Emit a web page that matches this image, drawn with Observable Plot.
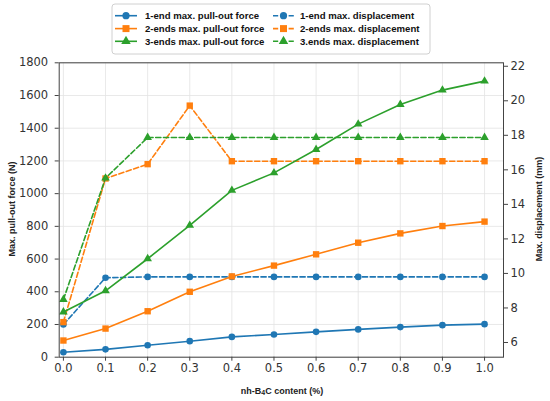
<!DOCTYPE html>
<html>
<head>
<meta charset="utf-8">
<script src="https://cdn.jsdelivr.net/npm/d3@7"></script>
<script src="https://cdn.jsdelivr.net/npm/@observablehq/plot@0.6"></script>
<style>
  html, body { margin: 0; padding: 0; background: #fff; }
  #chart svg { display: block; }
</style>
</head>
<body>
<div id="chart"></div>
<script>
// ---- data ----
const content = [0.0, 0.1, 0.2, 0.3, 0.4, 0.5, 0.6, 0.7, 0.8, 0.9, 1.0];
const force1 = [30, 48, 73, 98, 124, 139, 155, 170, 184, 196, 202];
const force2 = [102, 175, 281, 400, 494, 560, 629, 700, 757, 802, 829];
const force3 = [276, 406, 602, 806, 1020, 1127, 1270, 1425, 1545, 1633, 1688];
const disp1 = [7.04, 9.75, 9.8, 9.8, 9.8, 9.8, 9.8, 9.8, 9.8, 9.8, 9.8];
const disp2 = [7.18, 15.5, 16.33, 19.72, 16.5, 16.5, 16.5, 16.5, 16.5, 16.5, 16.5];
const disp3 = [8.49, 15.52, 17.87, 17.87, 17.87, 17.87, 17.87, 17.87, 17.87, 17.87, 17.87];
const leftTicks = [0, 200, 400, 600, 800, 1000, 1200, 1400, 1600, 1800];
const rightTicks = [6, 8, 10, 12, 14, 16, 18, 20, 22];
const seriesNames = [
  "1-end max. pull-out force", "2-ends max. pull-out force", "3-ends max. pull-out force",
  "1-end max. displacement", "2-ends max. displacement", "3.ends max. displacement"
];

// ---- styling ----
const colors = ["#1f77b4", "#ff7f0e", "#2ca02c"];
const symbols = ["circle", "square", "triangle"];
const radii = [3.3, 3.6, 3.2];
const d3symbols = [d3.symbolCircle, d3.symbolSquare, d3.symbolTriangle];
const DASH = "5.2,2.6";

// right axis (mm) mapped onto left scale (N)
const L0 = 0, L1 = 1800, R0 = 5.148, R1 = 22.2;
const toLeft = d => L0 + (d - R0) * (L1 - L0) / (R1 - R0);

const forces = [force1, force2, force3];
const disps = [disp1, disp2, disp3];
const rows = [];
forces.forEach((arr, s) => arr.forEach((v, j) => rows.push({x: content[j], y: v, s, kind: "force"})));
disps.forEach((arr, s) => arr.forEach((v, j) => rows.push({x: content[j], y: toLeft(v), s, kind: "disp"})));

const marks = [
  Plot.gridX(content, {stroke: "#e3e3e3", strokeOpacity: 1, strokeWidth: 0.8}),
  Plot.gridY(leftTicks, {stroke: "#e3e3e3", strokeOpacity: 1, strokeWidth: 0.8}),
];
for (let s = 0; s < 3; s++) {
  const d = rows.filter(r => r.kind === "disp" && r.s === s);
  marks.push(Plot.line(d, {x: "x", y: "y", stroke: colors[s], strokeWidth: 1.6, strokeDasharray: DASH}));
  marks.push(Plot.dot(d, {x: "x", y: "y", fill: colors[s], stroke: "none", symbol: symbols[s], r: radii[s]}));
}
for (let s = 0; s < 3; s++) {
  const f = rows.filter(r => r.kind === "force" && r.s === s);
  marks.push(Plot.line(f, {x: "x", y: "y", stroke: colors[s], strokeWidth: 1.6}));
  marks.push(Plot.dot(f, {x: "x", y: "y", fill: colors[s], stroke: "none", symbol: symbols[s], r: radii[s]}));
}
marks.push(Plot.frame({stroke: "#444", strokeWidth: 1}));
marks.push(Plot.axisY(leftTicks, {anchor: "left", tickSize: 4, tickPadding: 7, label: null, fontSize: 11.5, fill: "#333", stroke: "#444",
  tickFormat: d => String(d)}));
marks.push(Plot.axisY(rightTicks.map(toLeft), {anchor: "right", tickSize: 4, tickPadding: 3, label: null, fontSize: 11.5, fill: "#333", stroke: "#444",
  tickFormat: v => String(Math.round(R0 + (v - L0) * (R1 - R0) / (L1 - L0)))}));
marks.push(Plot.axisX(content, {anchor: "bottom", tickSize: 4, tickPadding: 3, label: null, fontSize: 11.5, fill: "#333", stroke: "#444",
  tickFormat: d3.format(".1f")}));

const chart = Plot.plot({
  width: 550, height: 401,
  marginLeft: 58.7, marginRight: 47, marginTop: 62.3, marginBottom: 44.3,
  style: {fontFamily: "DejaVu Sans", background: "#fff"},
  x: {domain: [-0.01, 1.045]},
  y: {domain: [L0, L1]},
  marks
});
document.getElementById("chart").appendChild(chart);

// ---- axis labels and legend ----
const svg = d3.select(chart);
const lab = svg.append("g").attr("font-family", "Liberation Sans, Arial, sans-serif").attr("font-weight", "bold").attr("font-size", 9).attr("fill", "#222").attr("text-anchor", "middle");
const xl = lab.append("text").attr("x", 282).attr("y", 394);
xl.append("tspan").text("nh-B");
xl.append("tspan").attr("font-size", 7).attr("dy", 0.5).text("4");
xl.append("tspan").attr("dy", -0.5).text("C content (%)");
lab.append("text").attr("transform", "translate(15,209) rotate(-90)").text("Max. pull-out force (N)");
lab.append("text").attr("transform", "translate(542,209) rotate(-90)").text("Max. displacement (mm)");

const lg = svg.append("g").attr("font-family", "Liberation Sans, Arial, sans-serif").attr("font-weight", "bold").attr("font-size", 9.6).attr("fill", "#111").attr("text-anchor", "start");
lg.append("rect").attr("x", 112).attr("y", 4).attr("width", 318).attr("height", 50).attr("rx", 3)
  .attr("fill", "#fff").attr("fill-opacity", 0.85).attr("stroke", "#d0d0d0").attr("stroke-width", 1);
const rowY = [15.7, 28.6, 41.3];
const cols = [{x0: 115, x1: 137, tx: 145, dash: null}, {x0: 273, x1: 294, tx: 300, dash: DASH}];
cols.forEach((c, ci) => {
  for (let s = 0; s < 3; s++) {
    const y = rowY[s];
    lg.append("line").attr("x1", c.x0).attr("x2", c.x1).attr("y1", y).attr("y2", y)
      .attr("stroke", colors[s]).attr("stroke-width", 1.6).attr("stroke-dasharray", c.dash);
    lg.append("path").attr("d", d3.symbol(d3symbols[s], Math.PI * radii[s] * radii[s] * 1.2)())
      .attr("transform", `translate(${(c.x0 + c.x1) / 2},${y})`).attr("fill", colors[s]);
    lg.append("text").attr("x", c.tx).attr("y", y + 3.4).text(seriesNames[ci * 3 + s]);
  }
});
</script>
</body>
</html>
